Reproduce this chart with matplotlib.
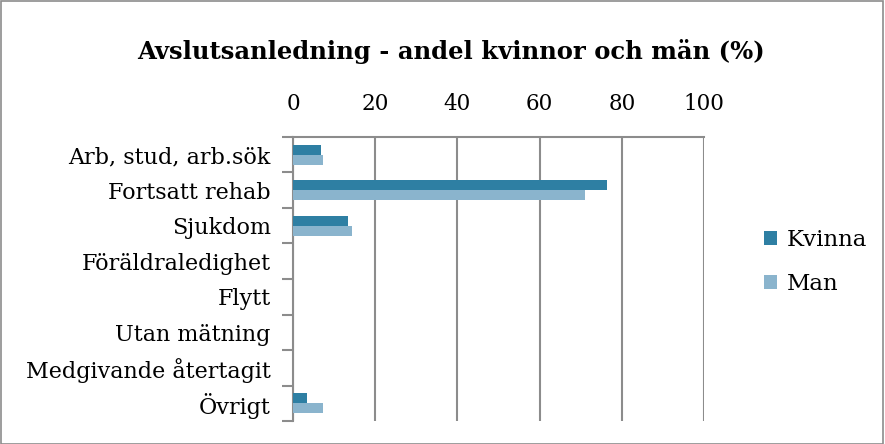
import numpy as np
import matplotlib.pyplot as plt
from matplotlib.patches import Rectangle

plt.rcParams['font.family'] = ['DejaVu Serif']

categories = ['Arb, stud, arb.sök', 'Fortsatt rehab', 'Sjukdom', 'Föräldraledighet',
              'Flytt', 'Utan mätning', 'Medgivande återtagit', 'Övrigt']
kvinna = [6.7, 76.3, 13.4, 0, 0, 0, 0, 3.3]
man = [7.2, 71.0, 14.3, 0, 0, 0, 0, 7.2]
xticks = [0, 20, 40, 60, 80, 100]

C_KVINNA = '#2E7FA3'
C_MAN = '#8AB4CD'
GRID = '#8c8c8c'

fig = plt.figure(figsize=(8.85, 4.44), dpi=100)
ax = fig.add_axes([293 / 885, 1 - 421 / 444, (704 - 293) / 885, (421 - 137) / 444])

y = np.arange(len(categories))
h = 0.28
ax.barh(y - h / 2, kvinna, height=h, color=C_KVINNA, label='Kvinna', zorder=3)
ax.barh(y + h / 2, man, height=h, color=C_MAN, label='Man', zorder=3)

ax.set_xlim(0, 100)
ax.set_ylim(len(categories) - 0.5, -0.5)
ax.set_xticks(xticks)
ax.xaxis.tick_top()
ax.tick_params(axis='x', length=0, labelsize=15.5, pad=16, colors='black')
ax.grid(axis='x', color=GRID, linewidth=1.5, zorder=0)

ax.set_yticks(y)
ax.set_yticklabels(categories, fontsize=16)
ax.set_yticks(np.arange(len(categories) + 1) - 0.5, minor=True)
ax.tick_params(axis='y', which='major', length=0, pad=16)
ax.tick_params(axis='y', which='minor', length=8, width=1.5, color=GRID)

for s in ['right', 'bottom']:
    ax.spines[s].set_visible(False)
for s in ['top', 'left']:
    ax.spines[s].set_color(GRID)
    ax.spines[s].set_linewidth(1.5)

fig.text(451 / 885, 1 - 52 / 444, 'Avslutsanledning - andel kvinnor och män (%)',
         ha='center', va='center', fontsize=17.5, fontweight='bold')

fig.legend(loc='center left', bbox_to_anchor=(743 / 885, 1 - 262 / 444), frameon=False,
           fontsize=16.5, handlelength=0.6, handleheight=0.6, handletextpad=0.4,
           labelspacing=0.95)

fig.patches.append(Rectangle((0.001, 0.001), 0.997, 0.997, transform=fig.transFigure,
                             fill=False, edgecolor='#8c8c8c', linewidth=1.2))

fig.savefig('out.png', dpi=100)
